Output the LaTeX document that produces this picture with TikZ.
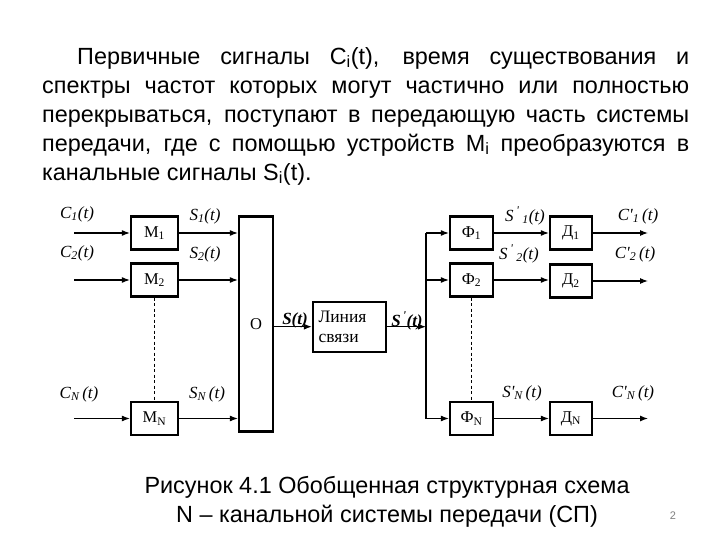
\documentclass[tikz,border=0pt]{standalone}
\usepackage{fontspec}
\setmainfont{Liberation Sans}
\newfontfamily\tmr{Liberation Serif}
\usetikzlibrary{arrows.meta}
\begin{document}
\begin{tikzpicture}[x=1pt,y=-1pt,
  blk/.style={draw, line width=2.3pt, minimum height=33pt, inner sep=0pt, font=\tmr\fontsize{16.5}{18}\selectfont},
  lbl/.style={font=\tmr\itshape\fontsize{17}{19}\selectfont, inner sep=0pt},
  blbl/.style={font=\tmr\bfseries\itshape\fontsize{17}{19}\selectfont, inner sep=0pt},
  arr/.style={line width=1.1pt, -{Latex[length=8pt,width=6pt]}},
  dsh/.style={line width=1pt, dash pattern=on 3pt off 2.5pt}]
\useasboundingbox (0,0) rectangle (720,540);

% paragraph
\node[anchor=north west, text width=647pt, align=justify, inner sep=0pt,
      font=\fontsize{23.4}{29}\selectfont] (par) at (42,47)
 {\hspace*{35pt}Первичные сигналы C\textsubscript{i}(t), время существования и\linebreak
  спектры частот которых могут частично или полностью\linebreak
  перекрываться, поступают в передающую часть системы\linebreak
  передачи, где с помощью устройств M\textsubscript{i} преобразуются в\linebreak
  канальные сигналы S\textsubscript{i}(t).};

% blocks
\node[blk, minimum width=47pt] (m1) at (154.5,233) {M\textsubscript{1}};
\node[blk, minimum width=47pt] (m2) at (154.5,280) {M\textsubscript{2}};
\node[blk, minimum width=47pt] (mn) at (154.5,418.5) {M\textsubscript{N}};
\node[blk, minimum width=34pt, minimum height=215pt] (o) at (256,324) {O};
\node[blk, minimum width=73pt, minimum height=50pt, text width=62pt, align=left,
      font=\tmr\fontsize{17.5}{20}\selectfont] (l) at (349.5,326.7) {Линия\\связи};
\node[blk, minimum width=43pt] (f1) at (471.5,233) {Ф\textsubscript{1}};
\node[blk, minimum width=43pt] (f2) at (471.5,280) {Ф\textsubscript{2}};
\node[blk, minimum width=43pt] (fn) at (471.5,418.5) {Ф\textsubscript{N}};
\node[blk, minimum width=42pt] (d1) at (571,233) {Д\textsubscript{1}};
\node[blk, minimum width=42pt] (d2) at (571,281) {Д\textsubscript{2}};
\node[blk, minimum width=42pt] (dn) at (571,418.5) {Д\textsubscript{N}};

% free ends
\coordinate (in1) at (74,233);
\coordinate (in2) at (74,280);
\coordinate (inn) at (74,418.5);
\coordinate (j) at (426,326.7);
\coordinate (out1) at (648,233);
\coordinate (out2) at (648,281);
\coordinate (outn) at (648,418.5);

% connectors
\draw[arr] (in1) -- (m1);
\draw[arr] (in2) -- (m2);
\draw[arr] (inn) -- (mn);
\draw[arr] (m1) -- (o.west |- m1);
\draw[arr] (m2) -- (o.west |- m2);
\draw[arr] (mn) -- (o.west |- mn);
\draw[dsh] (m2) -- (mn);
\draw[arr] (o.east |- l) -- (l);
\draw[arr] (l) -- (j);
\draw[line width=1.1pt] (j |- f1) -- (j |- fn);
\draw[arr] (j |- f1) -- (f1);
\draw[arr] (j |- f2) -- (f2);
\draw[arr] (j |- fn) -- (fn);
\draw[dsh] (f2) -- (fn);
\draw[arr] (f1) -- (d1.west |- f1);
\draw[arr] (f2) -- (d2.west |- f2);
\draw[arr] (fn) -- (dn);
\draw[arr] (d1) -- (out1);
\draw[arr] (d2) -- (out2);
\draw[arr] (dn) -- (outn);

% labels
\node[lbl] (lc1) at (77,214) {C\textsubscript{1}(t)};
\node[lbl] (lc2) at (77,253) {C\textsubscript{2}(t)};
\node[lbl] (lcn) at (79,394) {C\textsubscript{N}\,(t)};
\node[lbl] (ls1) at (205,216) {S\textsubscript{1}(t)};
\node[lbl] (ls2) at (205,254) {S\textsubscript{2}(t)};
\node[lbl] (lsn) at (207,394) {S\textsubscript{N}\,(t)};
\node[blbl] (ls) at (295,320) {S(t)};
\node[blbl] (lsp) at (407,321) {S\textsuperscript{\,'}(t)};
\node[lbl] (lsp1) at (525,216) {S\,\textsuperscript{'}\,\textsubscript{1}(t)};
\node[lbl] (lsp2) at (519,254) {S\,\textsuperscript{'}\,\textsubscript{2}(t)};
\node[lbl] (lspn) at (522,393) {S'\textsubscript{N}\,(t)};
\node[lbl] (lcp1) at (638,216) {C'\textsubscript{1}\,(t)};
\node[lbl] (lcp2) at (635,254) {C'\textsubscript{2}\,(t)};
\node[lbl] (lcpn) at (633,393) {C'\textsubscript{N}\,(t)};

% caption
\node[align=center, inner sep=0pt, font=\fontsize{23.4}{29}\selectfont] (cap) at (387,502)
 {Рисунок 4.1 Обобщенная структурная схема\\N – канальной системы передачи (СП)};
\node[font=\fontsize{11}{13}\selectfont, text=gray, inner sep=0pt] (pg) at (673,516) {2};
\end{tikzpicture}
\end{document}
